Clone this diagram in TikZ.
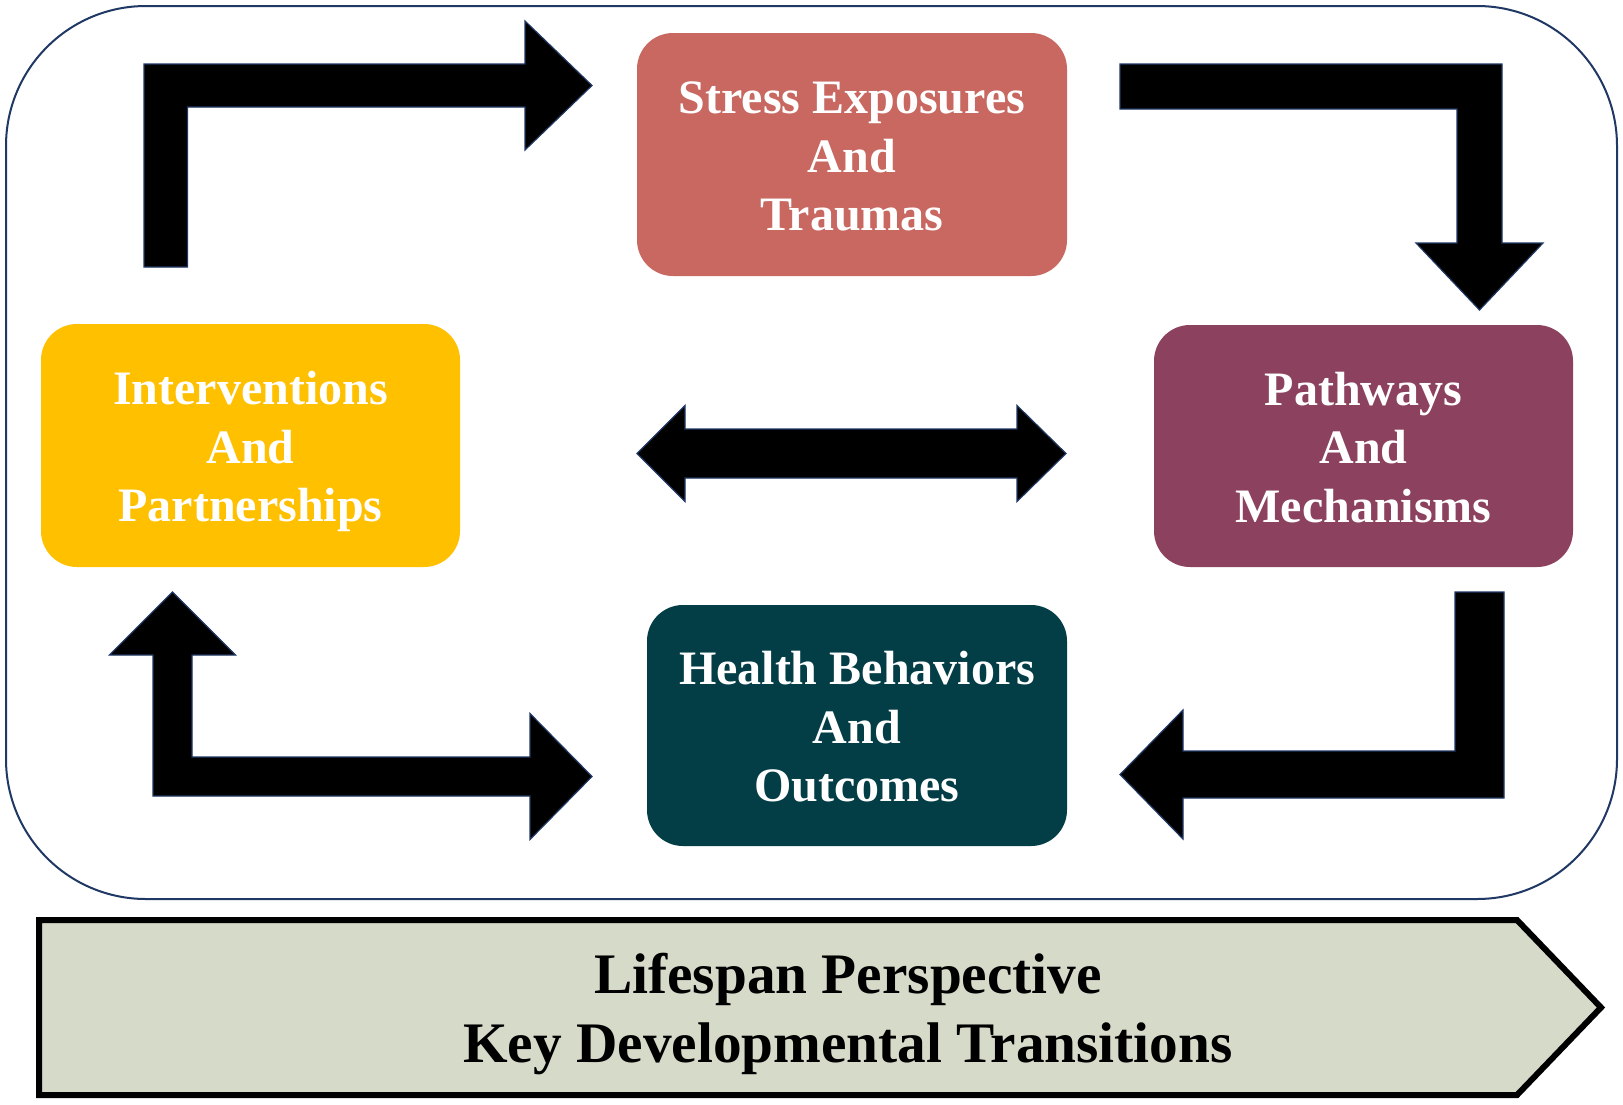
\documentclass[tikz,border=0pt]{standalone}
\usepackage{fontspec}
\setmainfont{Liberation Serif}
\definecolor{stresscol}{RGB}{200,104,97}
\definecolor{pathcol}{RGB}{140,66,94}
\definecolor{intercol}{RGB}{255,192,0}
\definecolor{healthcol}{RGB}{3,61,70}
\definecolor{bannercol}{RGB}{213,218,201}
\definecolor{navyline}{RGB}{31,56,100}
\newcommand{\tstr}{\rule{0pt}{26.3pt}}
\tikzset{
  box/.style={rounded corners=18pt, align=center, text=white, inner sep=0pt,
    font=\fontsize{24}{29.25}\selectfont\bfseries},
  blockarrow/.style={fill=black, draw=navyline, line width=0.6pt, line join=miter},
  container/.style={draw=navyline, line width=1pt, rounded corners=70pt},
  banner/.style={fill=bannercol, draw=black, line width=3pt, line join=miter},
  bannertext/.style={align=center, text=black, inner sep=0pt,
    font=\fontsize{28.65}{34.5}\selectfont\bfseries},
}
\begin{document}
\begin{tikzpicture}[x=0.5pt, y=-0.5pt]
\useasboundingbox (0,0) rectangle (1623,1104);
\fill[white] (0,0) rectangle (1623,1104);

% outer container
\draw[container] (6,6) rectangle (1617,899);

% boxes
\node[box, fill=stresscol, minimum width=215pt, minimum height=121.5pt] (stress) at (852,154.5)
  {\tstr Stress Exposures\\And\\Traumas\strut};
\node[box, fill=pathcol, minimum width=209.5pt, minimum height=121pt] (pathways) at (1363.5,446)
  {\tstr Pathways\\And\\Mechanisms\strut};
\node[box, fill=intercol, minimum width=209.5pt, minimum height=121.5pt] (interv) at (250.5,445.5)
  {\tstr Interventions\\And\\Partnerships\strut};
\node[box, fill=healthcol, minimum width=210pt, minimum height=120.5pt] (health) at (857,725.5)
  {\tstr Health Behaviors\\And\\Outcomes\strut};

% arrow: interventions -> stress
\draw[blockarrow] (144,267) -- (144,64) -- (525,64) -- (525,21) -- (592,85.5) -- (525,150)
  -- (525,107) -- (187.5,107) -- (187.5,267) -- cycle;
% arrow: stress -> pathways
\draw[blockarrow] (1120,64) -- (1502,64) -- (1502,243) -- (1543,243) -- (1479.5,310)
  -- (1416,243) -- (1457,243) -- (1457,109) -- (1120,109) -- cycle;
% double arrow middle
\draw[blockarrow] (637,453.5) -- (685,405.5) -- (685,429) -- (1017,429) -- (1017,405.5)
  -- (1066,453.5) -- (1017,501.5) -- (1017,478) -- (685,478) -- (685,501.5) -- cycle;
% L double arrow: interventions <-> health
\draw[blockarrow] (172.5,592) -- (235.5,655) -- (192,655) -- (192,757) -- (530,757)
  -- (530,713.5) -- (592,776.5) -- (530,839.5) -- (530,796) -- (153,796) -- (153,655)
  -- (109.5,655) -- cycle;
% arrow: pathways -> health
\draw[blockarrow] (1455,592) -- (1504,592) -- (1504,798) -- (1183,798) -- (1183,839)
  -- (1120,774.5) -- (1183,710) -- (1183,751) -- (1455,751) -- cycle;

% banner
\draw[banner] (39,920) -- (1517,920) -- (1601,1007.5) -- (1517,1095) -- (39,1095) -- cycle;
\node[bannertext] (lifespan) at (848,1013.7)
  {\strut Lifespan Perspective\\Key Developmental Transitions\strut};
\end{tikzpicture}
\end{document}
